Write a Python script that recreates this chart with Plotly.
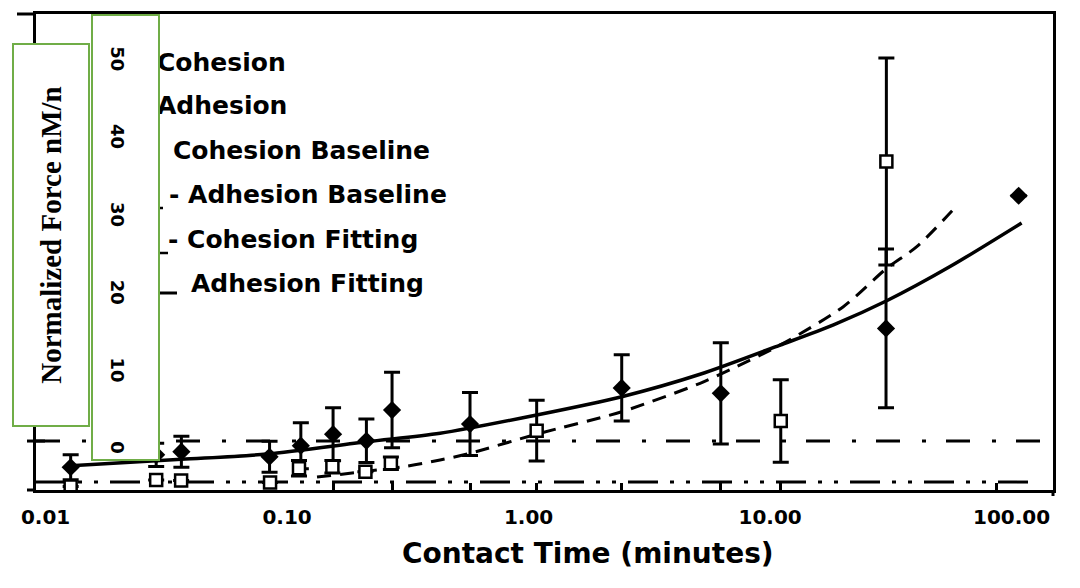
import plotly.graph_objects as go

# ---------------- data ----------------
time_coh = [0.0127, 0.0287, 0.0365, 0.0846, 0.114, 0.155, 0.213, 0.272, 0.572, 2.43, 6.25, 30.2, 107]
force_coh = [-2.5, -0.9, -0.5, -1.15, 0.27, 1.75, 0.9, 4.85, 3.05, 7.7, 7.0, 15.35, 32.4]
err_coh = [1.6, 1.5, 2.0, 2.0, 2.95, 3.4, 2.8, 4.85, 4.05, 4.25, 6.5, 10.2, 0]

time_adh = [0.0127, 0.0287, 0.0364, 0.085, 0.112, 0.154, 0.211, 0.269, 1.08, 11.07, 30.3]
force_adh = [-4.97, -4.14, -4.2, -4.46, -2.63, -2.43, -3.07, -1.99, 2.2, 3.44, 36.8]
err_adh = [0, 0, 0, 0, 1.0, 0.8, 0, 0.8, 3.9, 5.3, 13.3]

fit_coh_t = [0.0127, 0.0365, 0.0823, 0.214, 0.43, 1.08, 2.43, 5.13, 11.0, 18.3, 30.4, 55.6, 110]
fit_coh_v = [-2.3, -1.48, -0.8, 0.78, 1.86, 4.22, 6.57, 9.45, 13.2, 15.8, 18.9, 23.3, 28.9]

fit_adh_t = [0.133, 0.302, 0.43, 0.572, 1.083, 2.43, 5.13, 7.02, 11.34, 20.1, 30.4, 40.5, 58.3]
fit_adh_v = [-3.75, -2.43, -1.57, -0.71, 1.77, 4.64, 8.29, 10.22, 13.43, 18.14, 23.07, 25.85, 30.86]

baseline_coh = 0.87
baseline_adh = -4.4

x_tickvals = [0.01, 0.1, 1, 10, 100]
x_ticktext = ["0.01", "0.10", "1.00", "10.00", "100.00"]
x_inner_ticks = [0.155, 0.272, 0.572, 1.08, 2.43, 6.25, 11.07, 87]
y_tickvals = [0, 10, 20, 30, 40, 50]

legend_labels = ["Cohesion", "Adhesion", "Cohesion Baseline", "- Adhesion Baseline",
                 "- Cohesion Fitting", "Adhesion Fitting"]

# ---------------- layout geometry ----------------
W, H = 1080, 588
L, R, T, B = 36, 1053, 14, 490
X0PX, XDEC = 528.6, 241.5      # pixel of 1.00, pixels per decade
Y0PX, YUNIT = 447.8, 7.78      # pixel of 0, pixels per unit


def px(x):
    return (x - L) / (R - L)


def py(y):
    return (B - y) / (B - T)


x_range = [(L - X0PX) / XDEC, (R - X0PX) / XDEC]
y_range = [(Y0PX - B) / YUNIT, (Y0PX - T) / YUNIT]

GREEN = "#70AD47"
SANS = "DejaVu Sans"

fig = go.Figure()

fig.add_trace(go.Scatter(
    x=fit_coh_t, y=fit_coh_v, mode="lines",
    line=dict(color="black", width=3.5, shape="spline", smoothing=0.8),
    showlegend=False, hoverinfo="skip"))
fig.add_trace(go.Scatter(
    x=fit_adh_t, y=fit_adh_v, mode="lines",
    line=dict(color="black", width=3, dash="14px,9px", shape="spline", smoothing=0.8),
    showlegend=False, hoverinfo="skip"))
fig.add_trace(go.Scatter(
    x=time_coh, y=force_coh, mode="markers",
    marker=dict(symbol="diamond", size=14, color="black"),
    error_y=dict(type="data", array=err_coh, symmetric=True, color="black", thickness=3, width=8),
    showlegend=False))
fig.add_trace(go.Scatter(
    x=time_adh, y=force_adh, mode="markers",
    marker=dict(symbol="square", size=12, color="white", line=dict(color="black", width=2.5)),
    error_y=dict(type="data", array=err_adh, symmetric=True, color="black", thickness=3, width=8),
    showlegend=False))
# invisible trace to activate the secondary x axis carrying the inner ticks
fig.add_trace(go.Scatter(x=[x_tickvals[0]], y=[baseline_coh], xaxis="x2", mode="markers",
                         marker=dict(opacity=0), showlegend=False, hoverinfo="skip"))

shapes = [
    dict(type="line", xref="paper", yref="y", x0=0, x1=1, y0=baseline_coh, y1=baseline_coh,
         line=dict(color="black", width=3, dash="24px,22px,4px,20px"), layer="below"),
    dict(type="line", xref="paper", yref="y", x0=0, x1=0.985, y0=baseline_adh, y1=baseline_adh,
         line=dict(color="black", width=3, dash="30px,12px,4px,12px,4px,12px"), layer="below"),
    # axis extensions / small ticks
    dict(type="line", xref="paper", yref="paper", x0=px(17), x1=px(36), y0=py(14), y1=py(14),
         line=dict(color="black", width=3)),
    dict(type="line", xref="paper", yref="paper", x0=px(27), x1=px(36), y0=py(490), y1=py(490),
         line=dict(color="black", width=3)),
    dict(type="line", xref="paper", yref="paper", x0=px(1053), x1=px(1053), y0=py(490), y1=py(496),
         line=dict(color="black", width=3)),
    dict(type="line", xref="paper", yref="y", x0=px(27), x1=px(45), y0=baseline_coh, y1=baseline_coh,
         line=dict(color="black", width=3)),
    # legend symbol fragments peeking out from behind the box
    dict(type="line", xref="paper", yref="paper", x0=px(158), x1=px(163), y0=py(208), y1=py(208),
         line=dict(color="black", width=2.5)),
    dict(type="line", xref="paper", yref="paper", x0=px(158), x1=px(168), y0=py(253), y1=py(253),
         line=dict(color="black", width=2.5)),
    dict(type="line", xref="paper", yref="paper", x0=px(158), x1=px(177), y0=py(293), y1=py(293),
         line=dict(color="black", width=3)),
]

annotations = []
legend_pos = [(156, 63), (156, 106), (172, 150), (168, 194), (167, 239), (190, 283)]
for label, (lx, ly) in zip(legend_labels, legend_pos):
    annotations.append(dict(
        text="<b>%s</b>" % label, xref="paper", yref="paper", x=px(lx), y=py(ly),
        xanchor="left", yanchor="middle", showarrow=False, borderpad=0,
        font=dict(family=SANS, size=25, color="black")))

# x-axis title
annotations.append(dict(
    text="<b>Contact Time (minutes)</b>", xref="paper", yref="paper", x=px(588), y=py(553),
    xanchor="center", yanchor="middle", showarrow=False,
    font=dict(family=SANS, size=28, color="black")))

# green boxes (drawn after legend so they cover it)
annotations.append(dict(
    text=" ", xref="paper", yref="paper", x=px(125.5), y=py(237.5), xanchor="center", yanchor="middle",
    showarrow=False, width=65, height=443, borderpad=0, borderwidth=2, bordercolor=GREEN, bgcolor="white"))
annotations.append(dict(
    text="<b>Normalized Force nM/n</b>", xref="paper", yref="paper", x=px(51), y=py(235),
    xanchor="center", yanchor="middle", showarrow=False, textangle=-90,
    width=380, height=74, borderpad=0, borderwidth=2, bordercolor=GREEN, bgcolor="white",
    font=dict(family="Liberation Serif", size=29, color="black", weight=700)))
for v in y_tickvals:
    annotations.append(dict(
        text="<b>%d</b>" % v, xref="paper", yref="y", x=px(117.5), y=v, xanchor="center", yanchor="middle",
        showarrow=False, textangle=90,
        font=dict(family=SANS, size=18, color="black", weight=700)))

fig.update_layout(
    width=W, height=H,
    margin=dict(l=L, r=W - R, t=T, b=H - B, pad=0),
    paper_bgcolor="white", plot_bgcolor="white",
    xaxis=dict(type="log", range=x_range, showgrid=False, zeroline=False,
               showline=True, linewidth=3, linecolor="black", mirror=True,
               tickvals=x_tickvals, ticktext=["<b>%s</b>" % t for t in x_ticktext],
               ticks="outside", ticklen=0, ticklabelstandoff=7,
               tickfont=dict(family=SANS, size=20, color="black")),
    xaxis2=dict(type="log", range=x_range, overlaying="x", side="bottom", anchor="y",
                showgrid=False, zeroline=False, showline=False, showticklabels=False,
                tickvals=x_inner_ticks, ticks="inside", ticklen=7, tickwidth=3, tickcolor="black"),
    yaxis=dict(range=y_range, showgrid=False, zeroline=False, showline=True, linewidth=3,
               linecolor="black", mirror=True, showticklabels=False, ticks=""),
    shapes=shapes, annotations=annotations, showlegend=False,
)

fig.write_html("out.html")
